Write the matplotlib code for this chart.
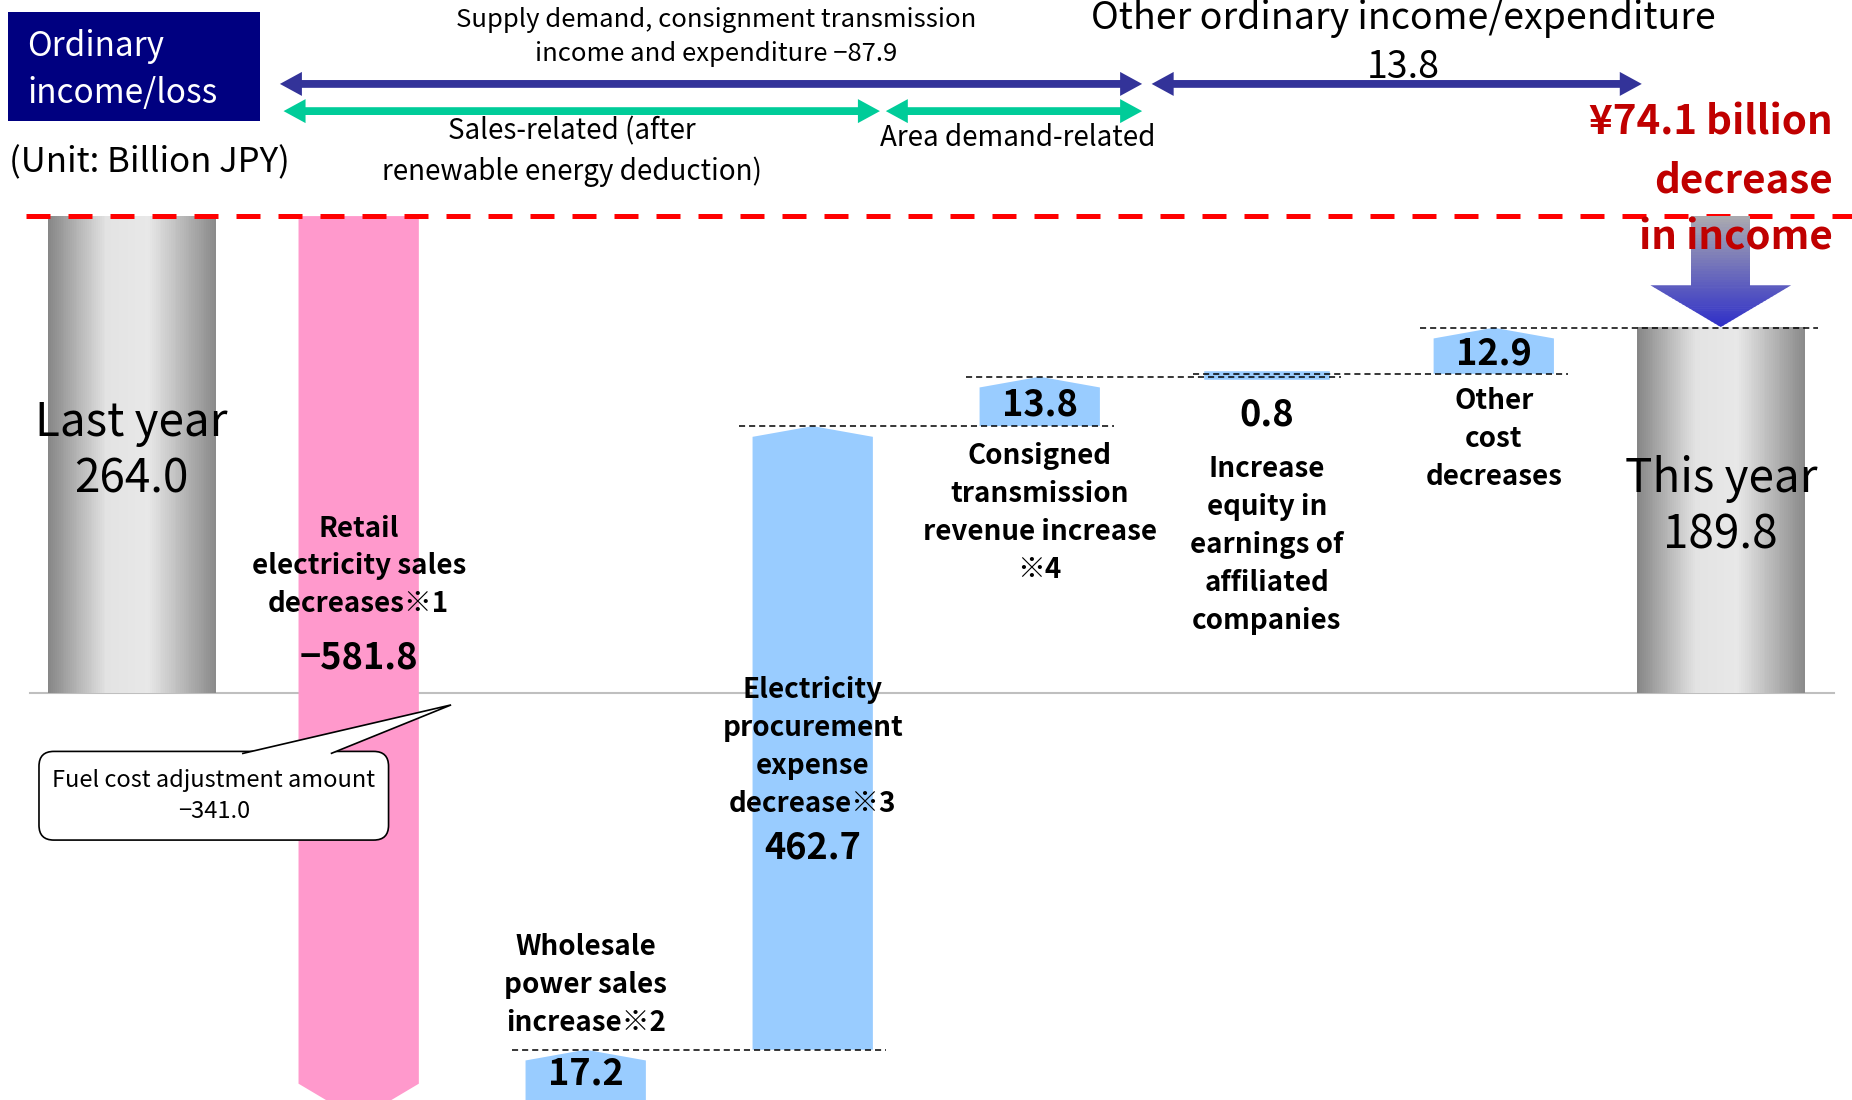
import numpy as np
import matplotlib
matplotlib.use("Agg")
import matplotlib.pyplot as plt
from matplotlib.patches import Polygon, Rectangle, FancyBboxPatch
from matplotlib.colors import to_rgb

plt.rcParams['font.family'] = ['Noto Sans CJK JP', 'DejaVu Sans']

# Ordinary income/loss bridge (billion JPY)
LAST_YEAR = 264.0
THIS_YEAR = 189.8
CHANGES = [-581.8, 17.2, 462.7, 13.8, 0.8, 12.9]
CHANGE_LABELS = [
    "Retail\nelectricity sales\ndecreases※1",
    "Wholesale\npower sales\nincrease※2",
    "Electricity\nprocurement\nexpense\ndecrease※3",
    "Consigned\ntransmission\nrevenue increase\n※4",
    "Increase\nequity in\nearnings of\naffiliated\ncompanies",
    "Other\ncost\ndecreases",
]
FUEL_ADJUSTMENT = -341.0
SUPPLY_DEMAND_TOTAL = -87.9
OTHER_ORDINARY_TOTAL = 13.8
INCOME_DECREASE = 74.1

# the original slide is schematic, so the y axis uses a piecewise stretch
SCALE_KNOTS = [-450, -300, 0, 160, 192, 450]
SCALE_STRETCH = [3.4, 0.99, 1.36, 3.0, 1.2]

PINK = "#FF99CC"
BLUE = "#99CCFF"
NAVY = "#000080"
ARROW_BLUE = "#333399"
GREEN = "#00CC99"
RED_TEXT = "#C00000"

_s = np.concatenate([[0], np.cumsum(np.diff(SCALE_KNOTS) * np.array(SCALE_STRETCH))])
_s = _s - np.interp(0, SCALE_KNOTS, _s)


def fwd(v):
    v = np.asarray(v, dtype=float)
    out = np.interp(v, SCALE_KNOTS, _s)
    out = np.where(v < SCALE_KNOTS[0], _s[0] + (v - SCALE_KNOTS[0]) * SCALE_STRETCH[0], out)
    out = np.where(v > SCALE_KNOTS[-1], _s[-1] + (v - SCALE_KNOTS[-1]) * SCALE_STRETCH[-1], out)
    return out


def inv(s):
    s = np.asarray(s, dtype=float)
    out = np.interp(s, _s, SCALE_KNOTS)
    out = np.where(s < _s[0], SCALE_KNOTS[0] + (s - _s[0]) / SCALE_STRETCH[0], out)
    out = np.where(s > _s[-1], SCALE_KNOTS[-1] + (s - _s[-1]) / SCALE_STRETCH[-1], out)
    return out


fig = plt.figure(figsize=(18.52, 11.0), dpi=100)
ax = fig.add_axes([0, 0, 1, 1])
ax.set_yscale("function", functions=(fwd, inv))
ax.set_xlim(-0.58, 7.578)
ax.set_ylim(-313, 415)
ax.axis("off")
xt = ax.get_xaxis_transform()  # x in data, y in axes fraction

W_TOTAL = 0.74
W_STEP = 0.53
levels = LAST_YEAR + np.cumsum(CHANGES)
bottoms = np.concatenate([[LAST_YEAR], levels[:-1]])


def gradient_bar(xc, value):
    n = 90
    edges = np.linspace(xc - W_TOTAL / 2, xc + W_TOTAL / 2, n + 1)
    mids = (edges[:-1] + edges[1:]) / 2
    t = (mids - edges[0]) / W_TOTAL
    g = np.interp(t, [0, 0.35, 0.6, 1], [0.52, 0.89, 0.91, 0.54])
    ax.bar(mids, value, width=W_TOTAL / n * 1.1, color=np.column_stack([g, g, g]),
           linewidth=0, zorder=2)


# baseline and last-year reference line
ax.plot([-0.45, 7.5], [0, 0], color="#BFBFBF", lw=1.5, zorder=1)
ax.plot([-0.466, 7.6], [LAST_YEAR, LAST_YEAR], color="#FF0000", lw=3.6,
        dashes=(4.8, 3.6), zorder=3)

gradient_bar(0, LAST_YEAR)
gradient_bar(7, THIS_YEAR)

TIP_UP = 9
TIP_DOWN = 30
for i, (b, t, d) in enumerate(zip(bottoms, levels, CHANGES)):
    x = i + 1
    l, r = x - W_STEP / 2, x + W_STEP / 2
    if d < 0:
        sh = inv(fwd(t) + TIP_DOWN)
        ax.fill([l, r, r, x, l], [b, b, sh, t, sh], color=PINK, lw=0, zorder=2)
    elif fwd(t) - fwd(b) > 2 * TIP_UP:
        sh = inv(fwd(t) - TIP_UP)
        ax.fill([l, r, r, x, l], [b, b, sh, t, sh], color=BLUE, lw=0, zorder=2)
    else:
        # too thin to see at this scale: give it a visible outline in the same colour
        ax.fill([l, r, r, l], [b, b, t, t], fc=BLUE, ec=BLUE, lw=4, joinstyle="miter", zorder=2)

# dashed connectors
for j, lev in enumerate(levels):
    w_next = W_TOTAL if j == len(levels) - 1 else W_STEP
    x0 = (j + 1) - W_STEP / 2 - 0.06
    x1 = (j + 2) + w_next / 2 + 0.06
    ax.plot([x0, x1], [lev, lev], color="black", lw=1.1, dashes=(4, 2.6), zorder=4)

# gradient down arrow (last year -> this year)
s_top, s_tip = fwd(LAST_YEAR), fwd(THIS_YEAR)
s_head = s_tip + 35
shaft_hw, head_hw = 0.13, 0.31
c0, c1 = np.array(to_rgb("#ABABAF")), np.array(to_rgb("#2F2FC8"))
total = s_top - s_tip
n_sh, n_hd = 25, 20
for k in range(n_sh):
    a = s_top - k * (s_top - s_head) / n_sh
    bb = s_top - (k + 1) * (s_top - s_head) / n_sh - 0.5
    col = c0 + (c1 - c0) * (s_top - (a + bb) / 2) / total
    ys = inv([bb, bb, a, a])
    ax.fill([7 - shaft_hw, 7 + shaft_hw, 7 + shaft_hw, 7 - shaft_hw], ys, color=col, lw=0, zorder=5)
for k in range(n_hd):
    a = s_head - k * (s_head - s_tip) / n_hd
    bb = max(s_head - (k + 1) * (s_head - s_tip) / n_hd - 0.5, s_tip)
    col = c0 + (c1 - c0) * (s_top - (a + bb) / 2) / total
    ha_ = head_hw * (a - s_tip) / (s_head - s_tip)
    hb_ = head_hw * (bb - s_tip) / (s_head - s_tip)
    ax.fill([7 - ha_, 7 + ha_, 7 + hb_, 7 - hb_], inv([a, a, bb, bb]), color=col, lw=0, zorder=5)

# bar texts
ax.text(0, 0.6155, "Last year", transform=xt, ha="center", va="center", fontsize=33, zorder=6)
ax.text(0, 0.5639, f"{LAST_YEAR:.1f}", transform=xt, ha="center", va="center", fontsize=33, zorder=6)
ax.text(7, 0.565, "This year", transform=xt, ha="center", va="center", fontsize=33, zorder=6)
ax.text(7, 0.5134, f"{THIS_YEAR:.1f}", transform=xt, ha="center", va="center", fontsize=33, zorder=6)

LABEL_Y = [0.485, 0.1047, 0.3212, 0.5338, 0.5048, 0.601]
VALUE_Y = [0.4017, 0.024, 0.2288, None, 0.623, None]
for i, (lab, d) in enumerate(zip(CHANGE_LABELS, CHANGES)):
    x = i + 1
    ax.text(x, LABEL_Y[i], lab, transform=xt, ha="center", va="center", fontsize=20,
            fontweight="bold", linespacing=1.45, zorder=6)
    txt = f"{d:.1f}".replace("-", "−")
    if VALUE_Y[i] is None:
        ym = inv((fwd(bottoms[i]) + fwd(levels[i])) / 2 - 3)
        ax.text(x, ym, txt, ha="center", va="center", fontsize=26, fontweight="bold", zorder=6)
    else:
        ax.text(x, VALUE_Y[i], txt, transform=xt, ha="center", va="center", fontsize=26,
                fontweight="bold", zorder=6)

# header
ax.add_patch(Rectangle((0.0045, 0.8904), 0.1358, 0.0989, transform=ax.transAxes,
                       color=NAVY, lw=0, zorder=5))
ax.text(0.0147, 0.936, "Ordinary\nincome/loss", transform=ax.transAxes, ha="left", va="center",
        fontsize=24, color="white", linespacing=1.45, zorder=6)
ax.text(0.0051, 0.8518, "(Unit: Billion JPY)", transform=ax.transAxes, ha="left", va="center",
        fontsize=25, zorder=6)


def double_arrow(x0, x1, yf, color, half=3.9, hw=12, hl=22):
    (p0, py), (p1, _) = xt.transform([(x0, yf), (x1, yf)])
    pts = [(p0, py), (p0 + hl, py + hw), (p0 + hl, py + half), (p1 - hl, py + half),
           (p1 - hl, py + hw), (p1, py), (p1 - hl, py - hw), (p1 - hl, py - half),
           (p0 + hl, py - half), (p0 + hl, py - hw)]
    ax.add_patch(Polygon(ax.transAxes.inverted().transform(pts), closed=True, color=color,
                         lw=0, transform=ax.transAxes, zorder=5))


double_arrow(0.653, 4.451, 0.9237, ARROW_BLUE)
double_arrow(4.493, 6.652, 0.9237, ARROW_BLUE)
double_arrow(0.669, 3.296, 0.899, GREEN)
double_arrow(3.322, 4.451, 0.899, GREEN)

ax.text(2.573, 0.9662, "Supply demand, consignment transmission\nincome and expenditure "
        + f"{SUPPLY_DEMAND_TOTAL:.1f}".replace("-", "−"),
        transform=xt, ha="center", va="center", fontsize=18.5, linespacing=1.4, zorder=6)
ax.text(1.938, 0.8625, "Sales-related (after\nrenewable energy deduction)", transform=xt,
        ha="center", va="center", fontsize=20, linespacing=1.43, zorder=6)
ax.text(3.905, 0.8743, "Area demand-related", transform=xt, ha="center", va="center",
        fontsize=20, zorder=6)
ax.text(5.601, 0.961, f"Other ordinary income/expenditure\n{OTHER_ORDINARY_TOTAL:.1f}",
        transform=xt, ha="center", va="center", fontsize=27, linespacing=1.355, zorder=6)
ax.text(0.9898, 0.8357, f"¥{INCOME_DECREASE:.1f} billion\ndecrease\nin income",
        transform=ax.transAxes, ha="right", va="center", fontsize=29, fontweight="bold",
        color=RED_TEXT, linespacing=1.51, zorder=7)

# callout for fuel cost adjustment
bx0, bx1, by0, by1 = 0.02105, 0.2098, 0.2363, 0.3169
tip = ax.transAxes.inverted().transform(ax.transData.transform((1.407, -10)))
ax.add_patch(FancyBboxPatch((bx0, by0), bx1 - bx0, by1 - by0, transform=ax.transAxes,
                            boxstyle="round,pad=0,rounding_size=0.008", mutation_aspect=1852 / 1100,
                            fc="white", ec="black", lw=1.2, zorder=6))
wedge = Polygon([(0.1307, by1 - 0.002), tip, (0.1786, by1 - 0.002)], closed=False,
                transform=ax.transAxes, fc="white", ec="black", lw=1.2, zorder=6)
ax.add_patch(wedge)
ax.text((bx0 + bx1) / 2, (by0 + by1) / 2,
        "Fuel cost adjustment amount\n" + f"{FUEL_ADJUSTMENT:.1f}".replace("-", "−"),
        transform=ax.transAxes, ha="center", va="center", fontsize=17, linespacing=1.42, zorder=7)

fig.savefig("out.png", dpi=100)
